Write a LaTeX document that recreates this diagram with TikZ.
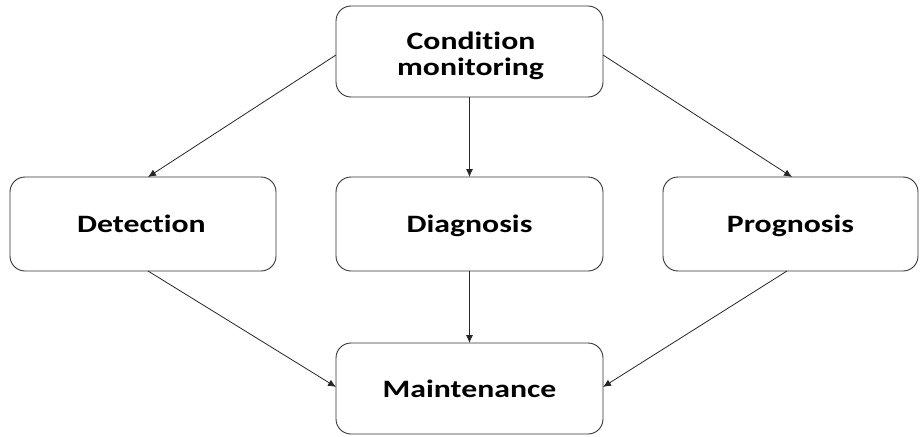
\documentclass[tikz,border=0pt]{standalone}
\usepackage{fontspec}
\setmainfont{Carlito}
\newfontfamily\boxfont[FakeStretch=1.27,Ligatures=NoCommon]{Carlito}
\usetikzlibrary{arrows.meta}
\begin{document}
\begin{tikzpicture}[x=1pt,y=-1pt,
  box/.style={draw=black!80, line width=0.9pt, rounded corners=15pt, fill=white},
  lbl/.style={font=\boxfont\fontsize{25}{26}\selectfont\bfseries, align=center, inner sep=0pt},
  link/.style={draw=black!85, line width=0.8pt, -{Latex[length=8pt,width=7pt]}}]
  \useasboundingbox (0,0) rectangle (920,436);
  % boxes
  \draw[box] (336,6) rectangle (603,97);
  \draw[box] (10,177) rectangle (276,271);
  \draw[box] (336,177) rectangle (603,271);
  \draw[box] (663,177) rectangle (918,271);
  \draw[box] (336,343) rectangle (603,434);
  % labels
  \node[lbl, anchor=base] (cm1) at (471,49) {Condition};
  \node[lbl, anchor=base] (cm2) at (470.5,75) {monitoring};
  \node[lbl, anchor=base] (det) at (141.5,232) {Detection};
  \node[lbl, anchor=base] (dia) at (469.5,232) {Diagnosis};
  \node[lbl, anchor=base] (pro) at (790.5,232) {Prognosis};
  \node[lbl, anchor=base] (mnt) at (469.5,397) {Maintenance};
  % anchor points on the box outlines
  \coordinate (cmL) at (336,55);
  \coordinate (cmR) at (603,55);
  \coordinate (cmB) at (469.5,97);
  \coordinate (detT) at (148,177);
  \coordinate (detB) at (148,271);
  \coordinate (diaT) at (469.5,177);
  \coordinate (diaB) at (469.5,271);
  \coordinate (proT) at (792,177);
  \coordinate (proB) at (787,271);
  \coordinate (mntT) at (469.5,343);
  \coordinate (mntL) at (336,387);
  \coordinate (mntR) at (603,387);
  % connectors
  \draw[link] (cmL) -- (detT);
  \draw[link] (cmB) -- (diaT);
  \draw[link] (cmR) -- (proT);
  \draw[link] (detB) -- (mntL);
  \draw[link] (diaB) -- (mntT);
  \draw[link] (proB) -- (mntR);
\end{tikzpicture}
\end{document}
